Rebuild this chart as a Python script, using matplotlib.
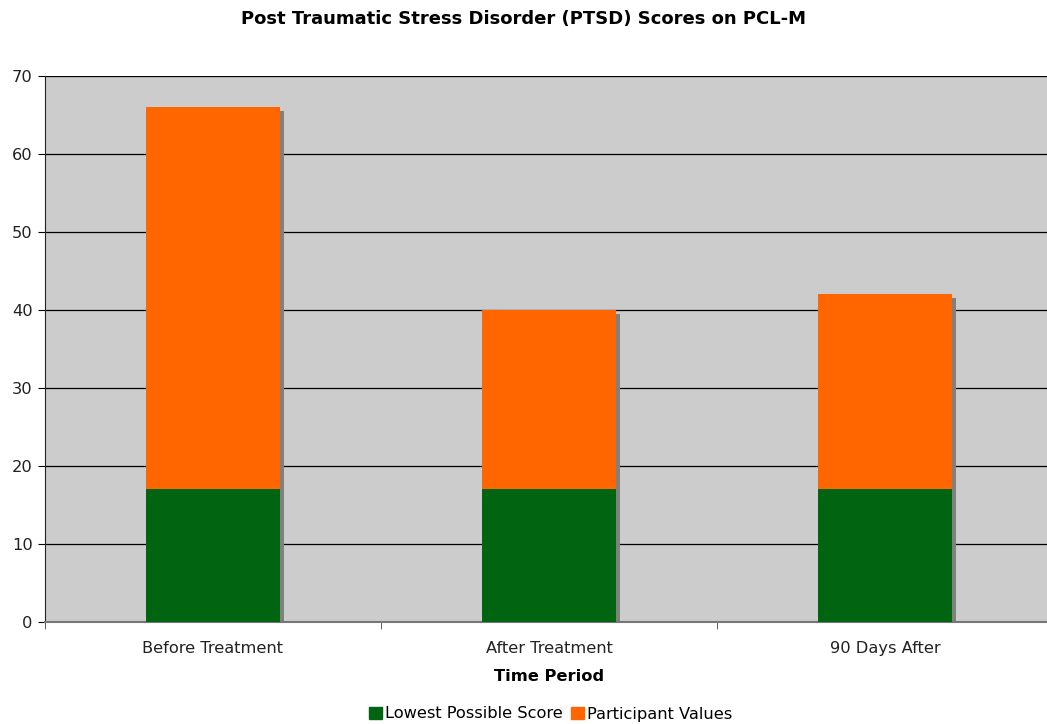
import numpy as np
import matplotlib
matplotlib.use("Agg")
import matplotlib.pyplot as plt
from matplotlib.patches import Patch

plt.rcParams["font.family"] = ["DejaVu Sans"]

# data
periods = ["Before Treatment", "After Treatment", "90 Days After"]
lowest_score = [17, 17, 17]
participant_extra = [49, 23, 25]   # stacked on top of the lowest score (totals 66, 40, 42)

GREEN = "#006411"
ORANGE = "#ff6600"
SHADOW = "#808080"
BG = "#cccccc"
FS = 11.7

W, H = 1047, 724
fig = plt.figure(figsize=(W / 100, H / 100), dpi=100)
# plot area: left 45px, top 76px, bottom 622px, category width 336px (runs past right edge)
ax = fig.add_axes([45 / W, 1 - 622 / H, 1008 / W, 546 / H])
ax.set_facecolor(BG)

x = np.arange(len(periods))
bw = 0.4
total = np.array(lowest_score) + np.array(participant_extra)

# drop shadow: offset ~4px right / down
dx = 4 / 336
dy = 4 / 546 * 70
ax.bar(x + dx, total - dy, width=bw, bottom=0, color=SHADOW, zorder=2, linewidth=0)
ax.bar(x, lowest_score, width=bw, color=GREEN, zorder=3, linewidth=0)
ax.bar(x, participant_extra, width=bw, bottom=lowest_score, color=ORANGE, zorder=3, linewidth=0)

ax.set_xlim(-0.5, 2.5)
ax.set_ylim(0, 70)
ax.set_yticks(range(0, 71, 10))
ax.yaxis.grid(True, color="black", lw=0.9, zorder=1)
ax.set_axisbelow(True)

ax.set_xticks(x)
ax.set_xticklabels(periods, fontsize=FS, color="#222222")
ax.set_xticks([-0.5, 0.5, 1.5], minor=True)
ax.tick_params(axis="x", which="major", length=0, pad=14)
ax.tick_params(axis="x", which="minor", length=5, color="#444444")
ax.tick_params(axis="y", length=5, labelsize=FS, labelcolor="#222222", pad=4)

for s in ["top", "right"]:
    ax.spines[s].set_visible(False)
ax.spines["left"].set_color("#222222")
ax.spines["bottom"].set_color("#777777")
ax.spines["bottom"].set_linewidth(1.5)

ax.set_xlabel("Time Period", fontsize=FS, fontweight="bold", labelpad=9)
fig.text(0.5, 1 - 19 / H, "Post Traumatic Stress Disorder (PTSD) Scores on PCL-M",
         ha="center", va="center", fontsize=13, fontweight="bold")

handles = [Patch(color=GREEN, label="Lowest Possible Score"),
           Patch(color=ORANGE, label="Participant Values")]
fig.legend(handles=handles, loc="center", bbox_to_anchor=(0.526, 1 - 714 / H),
           ncol=2, frameon=False, fontsize=FS, handlelength=0.8, handleheight=0.8,
           handletextpad=0.2, columnspacing=0.5, borderpad=0)

fig.savefig("out.png", dpi=100)
